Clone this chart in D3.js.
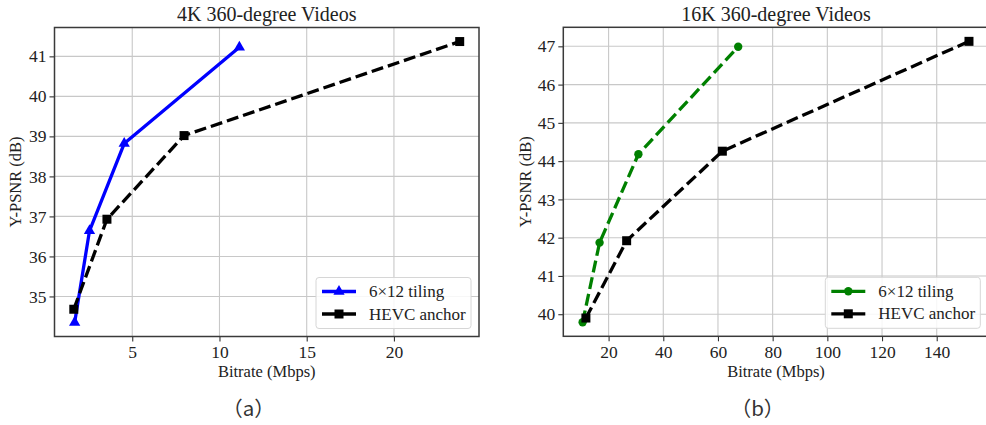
<!DOCTYPE html>
<html><head><meta charset="utf-8">
<script src="https://cdn.jsdelivr.net/npm/d3@7"></script>
<style>body{margin:0;background:#fff}svg{display:block}
.serif{font-family:"Liberation Serif","Times New Roman",serif}
.cjk{font-family:"Noto Sans CJK SC","Noto Sans",sans-serif}
</style>
</head><body><svg id="c" width="986" height="425"></svg>
<script>
// ---- data ----
const tiling4kRate = [1.70, 2.55, 4.54, 11.14];
const tiling4kPsnr = [34.35, 36.64, 38.82, 41.23];
const hevc4kRate   = [1.65, 3.55, 7.97, 23.77];
const hevc4kPsnr   = [34.68, 36.93, 39.02, 41.37];

const tiling16kRate = [10.5, 16.7, 30.9, 67.4];
const tiling16kPsnr = [39.79, 41.87, 44.18, 46.99];
const hevc16kRate   = [11.7, 26.6, 61.6, 151.8];
const hevc16kPsnr   = [39.90, 41.92, 44.26, 47.13];

const xTicks4k  = [5, 10, 15, 20];
const yTicks4k  = [35, 36, 37, 38, 39, 40, 41];
const xTicks16k = [20, 40, 60, 80, 100, 120, 140];
const yTicks16k = [40, 41, 42, 43, 44, 45, 46, 47];

const seriesNames = ["6×12 tiling", "HEVC anchor"];
const titles = ["4K 360-degree Videos", "16K 360-degree Videos"];
const xLabel = "Bitrate (Mbps)";
const yLabel = "Y-PSNR (dB)";
const subLabels = ["（a）", "（b）"];

const svg = d3.select("#c");

function padded(vals){
  const [a,b] = d3.extent(vals); const m = (b-a)*0.05; return [a-m, b+m];
}

function panel(o){
  const g = svg.append("g");
  const allX = o.series.flatMap(s=>s.x), allY = o.series.flatMap(s=>s.y);
  const x = d3.scaleLinear().domain(padded(allX)).range([o.left, o.left+o.w]);
  const y = d3.scaleLinear().domain(padded(allY)).range([o.top+o.h, o.top]);

  // grid
  g.append("g").selectAll("line").data(o.xTicks).join("line")
    .attr("x1", d=>x(d)).attr("x2", d=>x(d)).attr("y1", o.top).attr("y2", o.top+o.h)
    .attr("stroke", "#c8c8c8").attr("stroke-width", 1.1);
  g.append("g").selectAll("line").data(o.yTicks).join("line")
    .attr("y1", d=>y(d)).attr("y2", d=>y(d)).attr("x1", o.left).attr("x2", o.left+o.w)
    .attr("stroke", "#c8c8c8").attr("stroke-width", 1.1);

  // axes
  const ax = g.append("g").attr("transform", `translate(0,${o.top+o.h})`)
    .call(d3.axisBottom(x).tickValues(o.xTicks).tickSize(5).tickPadding(4));
  const ay = g.append("g").attr("transform", `translate(${o.left},0)`)
    .call(d3.axisLeft(y).tickValues(o.yTicks).tickSize(5).tickPadding(3));
  [ax, ay].forEach(a=>{
    a.attr("font-family", null).attr("font-size", null);
    a.select(".domain").remove();
    a.selectAll("line").attr("stroke", "#333").attr("stroke-width", 1.1);
    a.selectAll("text").attr("class", "serif").style("font-size", "17.5px").attr("fill", "#222");
  });

  // spines
  g.append("rect").attr("x", o.left).attr("y", o.top).attr("width", o.w).attr("height", o.h)
    .attr("fill", "none").attr("stroke", "#3a3a3a").attr("stroke-width", 1.5);

  // lines & markers
  o.series.forEach(s=>{
    const pts = s.x.map((v,i)=>[v, s.y[i]]);
    g.append("path").datum(pts)
      .attr("d", d3.line().x(d=>x(d[0])).y(d=>y(d[1])))
      .attr("fill", "none").attr("stroke", s.color).attr("stroke-width", 3.3)
      .attr("stroke-dasharray", s.dash ? "12,5" : null);
    g.append("g").selectAll("path").data(pts).join("path")
      .attr("transform", d=>`translate(${x(d[0])},${y(d[1])})`)
      .attr("d", d3.symbol(s.symbol, s.size)())
      .attr("fill", s.color);
  });

  // legend
  const lw = 155, lh = 51;
  const lx = o.left + o.w - 8 - lw, ly = o.top + o.h - 8 - lh;
  const lg = g.append("g");
  lg.append("rect").attr("x", lx).attr("y", ly).attr("width", lw).attr("height", lh)
    .attr("rx", 3).attr("fill", "#fff").attr("fill-opacity", 0.85)
    .attr("stroke", "#d6d6d6").attr("stroke-width", 1);
  o.series.forEach((s,i)=>{
    const ry = ly + 14 + i*22.5;
    lg.append("line").attr("x1", lx+6).attr("x2", lx+40).attr("y1", ry).attr("y2", ry)
      .attr("stroke", s.color).attr("stroke-width", 3.3);
    lg.append("path").attr("transform", `translate(${lx+23},${ry})`)
      .attr("d", d3.symbol(s.symbol, s.size)()).attr("fill", s.color);
    lg.append("text").attr("x", lx+53).attr("y", ry+5.5).text(seriesNames[i])
      .attr("class", "serif").style("font-size", "17px").attr("fill", "#222");
  });

  // title & labels
  const cx = o.left + o.w/2;
  g.append("text").attr("x", o.titleX || cx).attr("y", 20.5).attr("text-anchor", "middle")
    .attr("class", "serif").style("font-size", "20px").attr("fill", "#222").text(o.title);
  g.append("text").attr("x", o.titleX || cx).attr("y", 376.5).attr("text-anchor", "middle")
    .attr("class", "serif").style("font-size", "16.5px").attr("fill", "#222").text(xLabel);
  g.append("text").attr("transform", `translate(${o.yLabelX},${o.top+o.h/2}) rotate(-90)`)
    .attr("text-anchor", "middle").attr("class", "serif").style("font-size", "16.5px")
    .attr("fill", "#222").text(yLabel);
  g.append("text").attr("x", o.subX).attr("y", 416).attr("text-anchor", "middle")
    .attr("class", "cjk").style("font-size", "20.5px")
    .attr("fill", "#333").text(o.sub);
}

panel({
  left: 54.5, top: 27.5, w: 424.5, h: 309,
  xTicks: xTicks4k, yTicks: yTicks4k, title: titles[0], sub: subLabels[0],
  yLabelX: 21, subX: 248.5,
  series: [
    {x: tiling4kRate, y: tiling4kPsnr, color: "#0000ff", dash: false, symbol: d3.symbolTriangle, size: 55},
    {x: hevc4kRate, y: hevc4kPsnr, color: "#000", dash: true, symbol: d3.symbolSquare, size: 81}
  ]
});
panel({
  left: 563.3, top: 27.3, w: 425, h: 309,
  xTicks: xTicks16k, yTicks: yTicks16k, title: titles[1], sub: subLabels[1],
  titleX: 776,
  yLabelX: 531, subX: 757.5,
  series: [
    {x: tiling16kRate, y: tiling16kPsnr, color: "#008000", dash: true, symbol: d3.symbolCircle, size: 55},
    {x: hevc16kRate, y: hevc16kPsnr, color: "#000", dash: true, symbol: d3.symbolSquare, size: 81}
  ]
});
</script></body></html>
